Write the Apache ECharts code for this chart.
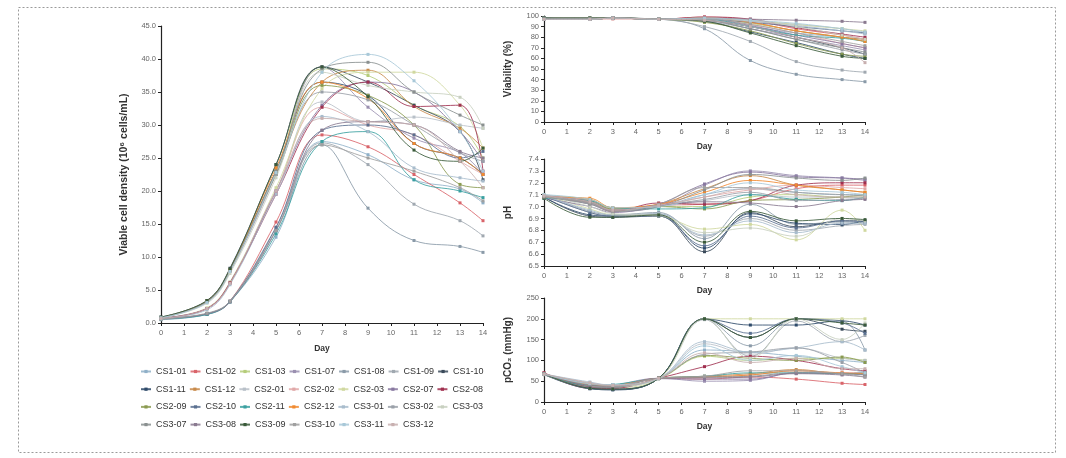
<!DOCTYPE html>
<html><head><meta charset="utf-8">
<script src="https://cdn.jsdelivr.net/npm/echarts@6/dist/echarts.min.js"></script>
<style>html,body{margin:0;padding:0;background:#fff}#c{width:1066px;height:458px}</style>
</head><body><div id="c"></div>
<script>
const days = [0, 2, 3, 5, 7, 9, 11, 13, 14];
const seriesNames = ['CS1-01','CS1-02','CS1-03','CS1-07','CS1-08','CS1-09','CS1-10',
  'CS1-11','CS1-12','CS2-01','CS2-02','CS2-03','CS2-07','CS2-08',
  'CS2-09','CS2-10','CS2-11','CS2-12','CS3-01','CS3-02','CS3-03',
  'CS3-07','CS3-08','CS3-09','CS3-10','CS3-11','CS3-12'];
const seriesColors = ['#8fb0c8','#d9646a','#b5cc7a','#9a8fb0','#8a9aa8','#a0a8b0','#3a4a5a',
  '#2e4a6a','#c88a4a','#b8c0c8','#e0a8a8','#d0d8a0','#8878a0','#a03050',
  '#8a9a50','#5a7090','#3aa0a0','#f08a30','#a8bccc','#9aa0a8','#c8d0c0',
  '#8a9090','#8a7a90','#3a5a3a','#a0a0a0','#a8c8d8','#c8b0b0'];

// Viable cell density (10^6 cells/mL)
const vcdValues = [
  [0.5,1.3,3.2,13.0,27.5,25.5,21.7,20.3,18.2],
  [0.6,1.4,3.3,15.3,28.5,26.7,22.5,18.2,15.5],
  [0.8,3.3,8.0,23.0,38.5,37.5,33.0,29.8,25.0],
  [0.8,3.2,7.8,22.5,38.8,32.7,28.0,25.8,22.5],
  [0.7,1.3,3.2,14.0,27.0,17.4,12.5,11.6,10.7],
  [0.7,1.4,3.3,14.5,27.3,24.0,18.0,15.5,13.2],
  [0.9,3.4,8.3,24.0,38.8,36.5,33.0,29.0,21.7],
  [0.8,3.3,8.0,23.0,36.5,34.5,27.2,25.0,22.5],
  [0.8,3.2,7.8,23.0,36.5,38.3,32.8,29.5,26.5],
  [0.6,2.2,6.2,20.0,33.5,30.5,31.2,30.0,29.5],
  [0.7,2.2,6.0,20.0,32.7,30.0,28.5,24.5,22.5],
  [0.7,2.3,6.2,20.5,35.5,38.0,38.0,33.0,26.5],
  [0.8,2.2,6.0,20.0,33.0,36.5,35.0,29.0,24.5],
  [0.7,2.2,6.1,19.5,32.7,36.5,32.8,33.0,23.0],
  [0.8,3.3,8.0,22.5,36.0,34.5,30.0,21.0,20.5],
  [0.7,1.4,3.3,14.5,29.2,30.0,28.5,25.0,26.0],
  [0.6,1.3,3.2,13.5,27.5,29.0,21.7,20.0,19.0],
  [0.8,3.3,8.0,23.5,36.5,34.0,27.2,25.0,22.5],
  [0.7,2.0,5.8,19.5,31.3,29.0,23.5,22.0,21.5],
  [0.8,3.2,7.8,22.5,35.0,33.8,30.0,25.8,24.5],
  [0.8,3.0,7.5,22.0,38.0,36.0,35.0,34.2,29.5],
  [0.8,3.3,8.0,23.0,38.5,39.5,35.0,31.5,30.0],
  [0.7,1.4,3.2,14.0,29.2,30.5,30.0,26.0,25.0],
  [0.9,3.4,8.2,24.0,38.8,34.3,26.2,24.5,26.5],
  [0.6,1.5,3.3,14.0,27.0,25.0,23.0,20.5,18.5],
  [0.8,3.1,7.8,22.8,38.0,40.7,36.7,29.0,23.0],
  [0.7,2.2,6.0,20.0,31.0,30.5,30.0,24.5,20.5]
];
// Viability (%)
const viabilityValues = [
  [98,97,98,97,96,90,84,80,78],
  [97,97,98,97,99,96,88,82,78],
  [98,98,98,97,98,93,86,80,76],
  [97,97,98,97,96,88,80,72,68],
  [97,97,98,97,88,58,45,40,38],
  [97,97,98,97,90,76,57,49,47],
  [98,98,98,97,96,90,80,70,64],
  [98,97,98,97,95,85,75,64,60],
  [97,97,98,97,98,94,86,80,78],
  [97,97,98,97,97,95,92,88,84],
  [97,97,97,97,97,92,84,74,70],
  [97,97,98,97,98,96,92,88,86],
  [98,98,98,97,97,91,82,74,70],
  [97,97,98,97,99,97,89,83,80],
  [98,98,98,97,94,86,74,64,62],
  [98,97,98,97,97,94,90,86,84],
  [97,97,98,97,97,90,82,79,76],
  [97,97,98,97,98,94,86,80,76],
  [97,97,98,97,97,95,91,86,83],
  [97,97,98,97,95,88,78,68,64],
  [97,97,98,97,98,96,90,82,78],
  [98,98,98,97,96,88,78,70,66],
  [97,97,98,97,98,97,96,95,94],
  [98,98,98,97,95,84,72,62,60],
  [97,97,98,97,97,92,84,76,72],
  [97,97,98,97,98,96,93,88,85],
  [97,97,98,97,96,90,80,70,56]
];
// pH
const phValues = [
  [7.08,7.03,6.97,7.00,7.10,7.15,7.12,7.10,7.10],
  [7.08,7.05,6.98,7.01,7.02,7.05,7.15,7.18,7.18],
  [7.09,7.06,6.98,7.00,7.00,7.08,7.10,7.08,7.08],
  [7.09,7.02,6.96,7.00,7.18,7.30,7.26,7.24,7.22],
  [7.10,6.96,6.93,6.95,6.73,7.02,6.85,6.87,6.86],
  [7.09,6.95,6.92,6.94,6.75,6.90,6.80,6.84,6.85],
  [7.08,6.92,6.91,6.92,6.62,6.95,6.83,6.88,6.88],
  [7.08,6.93,6.92,6.93,6.65,6.94,6.86,6.85,6.88],
  [7.08,7.06,6.97,7.02,7.15,7.26,7.18,7.14,7.12],
  [7.10,7.04,6.98,7.00,7.05,7.10,7.08,7.08,7.07],
  [7.09,7.05,6.97,7.01,7.08,7.14,7.18,7.16,7.15],
  [7.10,6.98,6.93,6.92,6.81,6.85,6.72,6.97,6.80],
  [7.07,7.00,6.95,7.02,7.19,7.29,7.25,7.24,7.23],
  [7.08,7.03,6.96,7.03,7.02,7.05,7.18,7.20,7.20],
  [7.08,7.04,6.98,7.00,6.98,7.05,7.06,7.08,7.10],
  [7.09,6.95,6.92,6.92,6.67,6.92,6.82,6.88,6.87],
  [7.07,7.05,6.99,6.98,6.99,7.10,7.06,7.05,7.08],
  [7.08,7.07,6.99,7.02,7.12,7.22,7.18,7.14,7.12],
  [7.09,6.97,6.93,6.94,6.76,6.88,6.78,6.86,6.86],
  [7.09,7.03,6.97,7.01,7.06,7.12,7.05,7.06,7.07],
  [7.10,7.00,6.94,6.93,6.78,6.82,6.75,6.90,6.88],
  [7.08,7.02,6.96,7.00,7.14,7.27,7.24,7.22,7.24],
  [7.09,7.04,6.97,7.01,7.04,7.03,7.00,7.05,7.06],
  [7.07,6.91,6.91,6.93,6.70,6.96,6.88,6.90,6.89],
  [7.08,7.03,6.96,7.02,7.16,7.16,7.12,7.10,7.09],
  [7.10,7.06,6.99,7.00,7.10,7.20,7.14,7.12,7.10],
  [7.09,7.04,6.97,7.01,7.08,7.15,7.10,7.08,7.08]
];
// pCO2 (mmHg)
const pco2Values = [
  [66,42,38,57,125,120,110,100,95],
  [70,33,35,57,55,60,55,45,42],
  [66,42,40,56,110,100,105,105,100],
  [68,35,40,57,50,52,70,70,65],
  [69,35,32,57,200,135,200,195,125],
  [67,34,30,57,198,110,195,145,160],
  [68,32,30,57,200,155,200,175,170],
  [67,33,29,57,200,185,185,195,185],
  [67,38,40,57,62,68,78,68,70],
  [68,45,40,56,140,115,130,105,100],
  [68,40,38,57,60,65,75,70,72],
  [66,40,35,56,200,200,200,200,200],
  [66,36,35,56,55,55,70,68,65],
  [70,36,33,57,85,110,100,80,75],
  [66,40,38,57,112,105,100,108,95],
  [66,32,30,57,200,165,200,190,165],
  [67,40,42,57,62,70,70,68,70],
  [68,42,40,57,60,65,75,70,68],
  [67,48,40,57,145,120,130,145,125],
  [68,40,36,57,115,120,130,95,70],
  [66,45,38,57,200,105,200,150,190],
  [66,36,35,57,60,62,70,68,66],
  [68,40,38,57,58,60,68,65,60],
  [68,33,31,57,200,155,200,190,185],
  [67,44,40,57,62,75,75,68,60],
  [67,44,42,56,135,100,112,85,70],
  [67,46,40,57,118,95,105,80,80]
];

const FONT = 'Liberation Sans, Arial, sans-serif';
const metrics = [vcdValues, viabilityValues, phValues, pco2Values];

const grids = [
  {left:161, right:583, top:26, bottom:135},
  {left:544, right:201, top:16, bottom:336},
  {left:544, right:201, top:159, bottom:192},
  {left:544, right:201, top:298, bottom:56}
];

function xAx(i){
  return {type:'value', gridIndex:i, min:0, max:14, interval:1,
    name:'Day', nameLocation:'middle', nameGap: i===0?21:20,
    nameTextStyle:{fontSize:8.5, fontWeight:'bold', color:'#333', fontFamily:FONT},
    axisLine:{show:true, lineStyle:{color:'#222', width:1.2}},
    axisTick:{show:true, length:3, lineStyle:{color:'#222'}},
    axisLabel:{fontSize:7.5, color:'#666', margin:6, fontFamily:FONT},
    splitLine:{show:false}};
}
function yAx(i, min, max, interval, name, fmt){
  return {type:'value', gridIndex:i, min:min, max:max, interval:interval,
    name:name, nameLocation:'middle', nameGap:31,
    nameTextStyle:{fontSize:i===0?10.5:10, fontWeight:'bold', color:'#333', fontFamily:FONT},
    axisLine:{show:true, lineStyle:{color:'#222', width:1.2}},
    axisTick:{show:true, length:3, lineStyle:{color:'#222'}},
    axisLabel:{fontSize:7.5, color:'#666', margin:5, fontFamily:FONT, formatter:fmt},
    splitLine:{show:false}};
}

const series = [];
metrics.forEach((vals, g) => {
  seriesNames.forEach((nm, i) => {
    series.push({
      type:'line', name:nm, xAxisIndex:g, yAxisIndex:g,
      data: days.map((d,k) => [d, vals[i][k]]),
      smooth:0.4, symbol:'rect', symbolSize:3, showSymbol:true,
      lineStyle:{width:1, color:seriesColors[i], opacity:0.85},
      itemStyle:{color:seriesColors[i]},
      emphasis:{disabled:true}, silent:true
    });
  });
});

const legends = [0,1,2,3].map(r => ({
  data: seriesNames.slice(r*7, r*7+7),
  left:135, top:362 + r*17.7, orient:'horizontal',
  itemWidth:10, itemHeight:4, itemGap:3,
  textStyle:{fontSize:9, color:'#333', fontFamily:FONT, width:32},
  selectedMode:false
}));

const chart = echarts.init(document.getElementById('c'), null, {renderer:'canvas'});
chart.setOption({
  animation:false,
  backgroundColor:'#fff',
  grid: grids,
  xAxis: [xAx(0), xAx(1), xAx(2), xAx(3)],
  yAxis: [
    yAx(0, 0, 45, 5, 'Viable cell density (10\u2076 cells/mL)', v => v.toFixed(1)),
    yAx(1, 0, 100, 10, 'Viability (%)', v => String(v)),
    yAx(2, 6.5, 7.4, 0.1, 'pH', v => v.toFixed(1)),
    yAx(3, 0, 250, 50, 'pCO\u2082 (mmHg)', v => String(v))
  ],
  legend: legends,
  series: series,
  graphic: [{
    type:'rect', shape:{x:18.5, y:7.5, width:1037, height:445},
    style:{fill:'none', stroke:'#9a9a9a', lineWidth:1, lineDash:[2,2]}, silent:true
  }]
});
</script></body></html>
